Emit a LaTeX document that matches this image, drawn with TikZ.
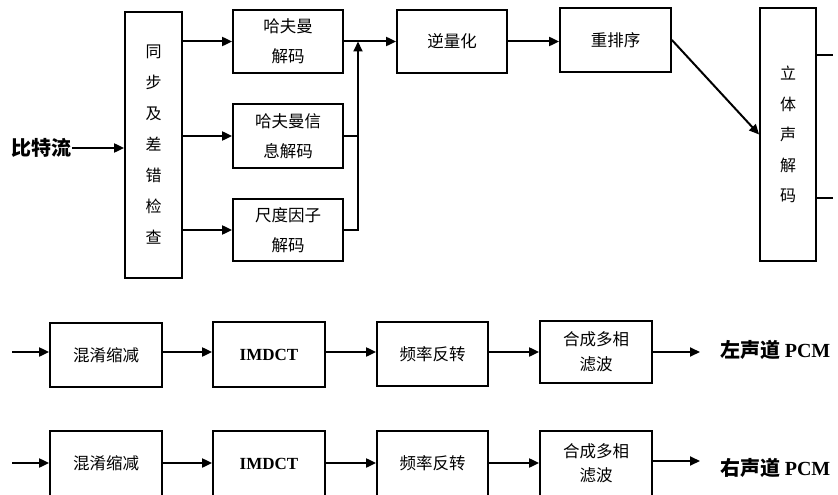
\documentclass[tikz,border=0pt]{standalone}
\usepackage{fontspec}
\setmainfont{Noto Sans CJK SC}
\newfontfamily\tnr{Liberation Serif}
\usetikzlibrary{arrows.meta}
\tikzset{
  blk/.style={draw, line width=1.8pt, minimum width=110pt, minimum height=63pt, inner sep=0pt, align=center, font=\fontsize{16.5}{30}\selectfont},
  vblk/.style={draw, line width=1.8pt, inner sep=0pt, align=center, font=\fontsize{16}{31}\selectfont},
  arr/.style={line width=2pt, -{Triangle[length=10pt,width=9pt]}},
  ln/.style={line width=2pt},
  lbl/.style={font=\fontsize{20}{22}\selectfont\bfseries, inner sep=0pt}
}
\begin{document}
\begin{tikzpicture}[x=1pt,y=-1pt]
\useasboundingbox (0,0) rectangle (838,495);
% top section
\node[lbl] (bs) at (42,148) {比特流};
\node[vblk, minimum width=57pt, minimum height=266pt] (sync) at (153.5,145) {同\\步\\及\\差\\错\\检\\查};
\node[blk] (hA) at (288,41.5) {哈夫曼\\解码};
\node[blk, minimum height=64pt] (hB) at (288,136) {哈夫曼信\\息解码};
\node[blk, minimum height=62pt] (hC) at (288,230) {尺度因子\\解码};
\node[blk] (iq) at (452,41.5) {逆量化};
\node[blk, minimum width=111pt, minimum height=64pt] (ro) at (615.5,40) {重排序};
\node[vblk, minimum width=56pt, minimum height=253pt, font=\fontsize{16}{30.5}\selectfont] (st) at (788,134.5) {立\\体\\声\\解\\码};

\draw[arr] (bs.east) -- (sync.west |- bs.east);
\draw[arr] (sync.east |- hA.west) -- (hA.west);
\draw[arr] (sync.east |- hB.west) -- (hB.west);
\draw[arr] (sync.east |- hC.west) -- (hC.west);

\coordinate (jx) at (358,41.5);
\draw[arr] (hA.east) -- (iq.west);
\draw[ln] (hB.east) -- (hB.east -| jx);
\draw[arr] (hC.east) -- (hC.east -| jx) -- (jx);
\draw[arr] (iq.east) -- (ro.west |- iq.east);
\draw[arr] (ro.east) -- (st.west);

\coordinate (o1) at (833,55);
\coordinate (o2) at (833,198);
\draw[ln] (st.east |- o1) -- (o1);
\draw[ln] (st.east |- o2) -- (o2);

% bottom rows
\node[blk, minimum width=112pt, minimum height=64pt] (a1) at (106,355) {混淆缩减};
\node[blk, minimum width=112pt, minimum height=65pt, font=\fontsize{17}{19}\selectfont\tnr\bfseries] (b1) at (269,354.5) {IMDCT};
\node[blk, minimum width=111pt, minimum height=64pt] (c1) at (432.5,354) {频率反转};
\node[blk, minimum width=112pt, minimum height=62pt, font=\fontsize{16.5}{25}\selectfont] (d1) at (596,352) {合成多相\\滤波};
\node[lbl, anchor=west] (l1) at (720,350) {左声道 {\tnr PCM}};

\node[blk, minimum width=112pt, minimum height=65pt] (a2) at (106,463.5) {混淆缩减};
\node[blk, minimum width=112pt, minimum height=65pt, font=\fontsize{17}{19}\selectfont\tnr\bfseries] (b2) at (269,463.5) {IMDCT};
\node[blk, minimum width=111pt, minimum height=65pt] (c2) at (432.5,463.5) {频率反转};
\node[blk, minimum width=112pt, minimum height=65pt, font=\fontsize{16.5}{24}\selectfont] (d2) at (596,463.5) {合成多相\\滤波};
\node[lbl, anchor=west] (l2) at (720,468) {右声道 {\tnr PCM}};

\coordinate (s1) at (12,352);
\coordinate (s2) at (12,463);
\coordinate (e1) at (700,352);
\coordinate (e2) at (700,461);

\draw[arr] (s1) -- (a1.west |- s1);
\draw[arr] (a1.east |- s1) -- (b1.west |- s1);
\draw[arr] (b1.east |- s1) -- (c1.west |- s1);
\draw[arr] (c1.east |- s1) -- (d1.west |- s1);
\draw[arr] (d1.east |- s1) -- (e1);

\draw[arr] (s2) -- (a2.west |- s2);
\draw[arr] (a2.east |- s2) -- (b2.west |- s2);
\draw[arr] (b2.east |- s2) -- (c2.west |- s2);
\draw[arr] (c2.east |- s2) -- (d2.west |- s2);
\draw[arr] (d2.east |- e2) -- (e2);
\end{tikzpicture}
\end{document}
